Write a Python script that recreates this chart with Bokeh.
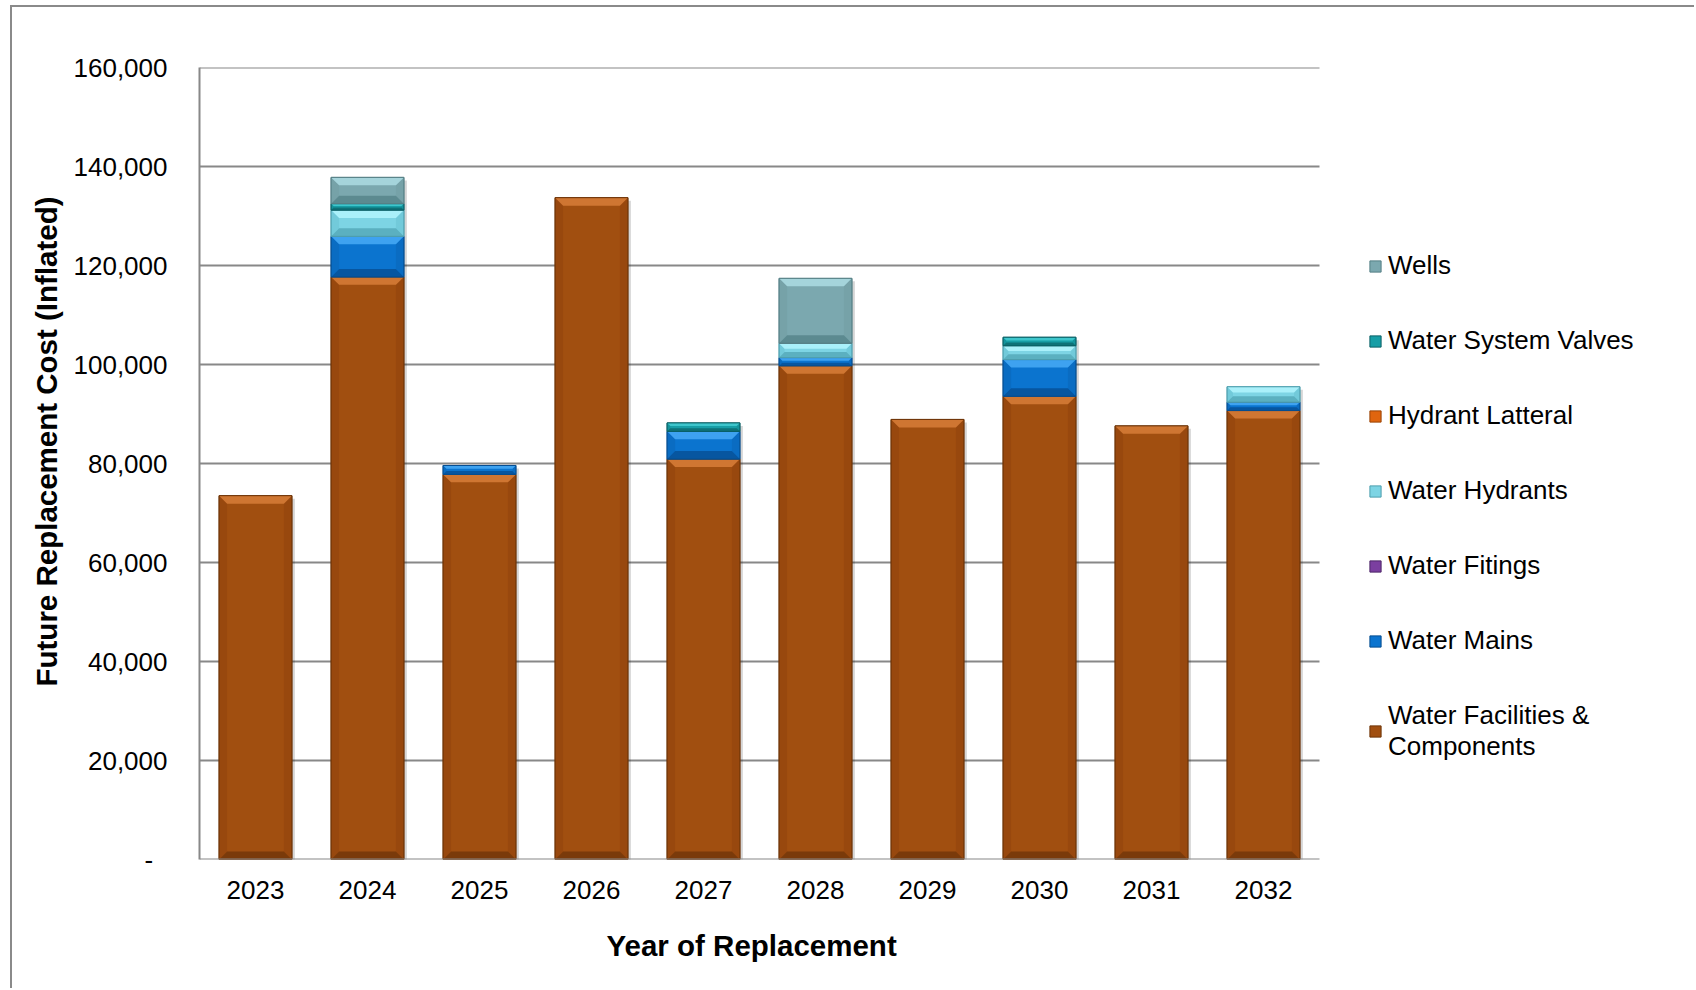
from bokeh.plotting import figure
from bokeh.models import Range1d, FixedTicker, Legend, LegendItem, NumeralTickFormatter, Title
from bokeh.embed import file_html
from bokeh.resources import INLINE

# ---- data -------------------------------------------------------------
years = ["2023", "2024", "2025", "2026", "2027", "2028", "2029", "2030", "2031", "2032"]
facilities = [73500, 117700, 77800, 133700, 80900, 99750, 88900, 93600, 87600, 90700]
mains      = [0, 8200, 1800, 0, 5600, 1650, 0, 7400, 0, 1700]
fittings   = [0, 0, 0, 0, 0, 0, 0, 0, 0, 0]
hydrants   = [0, 5300, 0, 0, 0, 2900, 0, 2800, 0, 3100]
latteral   = [0, 0, 0, 0, 0, 0, 0, 0, 0, 0]
valves     = [0, 1300, 0, 0, 1700, 0, 0, 1700, 0, 0]
wells      = [0, 5300, 0, 0, 0, 13100, 0, 0, 0, 0]
y_ticks = [0, 20000, 40000, 60000, 80000, 100000, 120000, 140000, 160000]

# stacking order bottom -> top, with (face, top bevel, bottom bevel, side bevel, edge)
series = [
    ("Water Facilities &\nComponents", facilities, ("#A14F10", "#CF7632", "#7A3A0A", "#98480E", "#6E3508")),
    ("Water Mains",          mains,     ("#0B74CF", "#3EA2F0", "#0756A0", "#0A6CC2", "#064E90")),
    ("Water Fitings",        fittings,  ("#7B3FA0", "#A56CC8", "#5A2C78", "#733A96", "#4E2668")),
    ("Water Hydrants",       hydrants,  ("#7DD4E4", "#AAF0FA", "#5BB0C0", "#72CADA", "#4E9EAE")),
    ("Hydrant Latteral",     latteral,  ("#E0650F", "#F59048", "#B04E08", "#D45E0C", "#9A4406")),
    ("Water System Valves",  valves,    ("#179EA6", "#3EC6CC", "#0E7278", "#14949C", "#0B6066")),
    ("Wells",                wells,     ("#7BA8AF", "#A5D4DB", "#5C8A90", "#76A2A8", "#557F85")),
]

FONT = "Liberation Sans"
W, H = 1684, 983
MB_L, MB_T, MB_B = 187, 60, 129
BAR_AREA_W = 1120                      # pixel width of the category band
FRAME_W = W - MB_L                     # frame runs to the right edge; legend lives there
FRAME_H = H - MB_T - MB_B
Y_MAX = 160000
N = len(years)
X_END = N * FRAME_W / BAR_AREA_W
PX_X = BAR_AREA_W / N
PX_Y = FRAME_H / Y_MAX
HALF = 0.325
GRID = "#888888"
NAN = float("nan")

p = figure(width=W, height=H, x_range=Range1d(0, X_END), y_range=Range1d(0, Y_MAX),
           output_backend="svg", toolbar_location=None,
           min_border_left=MB_L, min_border_top=MB_T,
           min_border_right=0, min_border_bottom=MB_B)
p.margin = (5, 0, 0, 10)
p.styles = {"border-left": "2px solid #8a8a8a", "border-top": "2px solid #8a8a8a"}
p.outline_line_color = None
p.background_fill_color = "white"
p.border_fill_color = "white"

# horizontal gridlines over the category band only
grid_y = [t for t in y_ticks if t > 0]
p.segment(x0=[0] * len(grid_y), x1=[N] * len(grid_y), y0=grid_y, y1=grid_y,
          line_color=GRID, line_width=2)

# soft drop shadow behind each stacked column
totals = [sum(s[1][i] for s in series) for i in range(N)]
sdx = 3 / PX_X
sdy = 3 / PX_Y
p.quad(left=[i + 0.5 - HALF + sdx for i in range(N)], right=[i + 0.5 + HALF + sdx for i in range(N)],
       bottom=[-sdy] * N, top=[t - sdy for t in totals],
       fill_color="black", fill_alpha=0.16, line_color=None)

items = []
base = [0] * N
for name, vals, (face, top_c, bot_c, side_c, edge) in series:
    idx = [i for i in range(N) if vals[i] > 0]
    y0 = [base[i] for i in idx]
    y1 = [base[i] + vals[i] for i in idx]
    xl = [i + 0.5 - HALF for i in idx]
    xr = [i + 0.5 + HALF for i in idx]
    if idx:
        p.quad(left=xl, right=xr, bottom=y0, top=y1,
               fill_color=face, line_color=edge, line_width=1)
        # bevel bands
        tx, ty, bx_, by_, lx, ly, rx, ry = [], [], [], [], [], [], [], []
        for a, b, x0, x1 in zip(y0, y1, xl, xr):
            bev = min(8.0, (b - a) * PX_Y * 0.38)
            dx = bev / PX_X
            dy = bev / PX_Y
            tx.append([x0, x1, x1 - dx, x0 + dx]); ty.append([b, b, b - dy, b - dy])
            bx_.append([x0, x1, x1 - dx, x0 + dx]); by_.append([a, a, a + dy, a + dy])
            lx.append([x0, x0 + dx, x0 + dx, x0]); ly.append([a, a + dy, b - dy, b])
            rx.append([x1, x1 - dx, x1 - dx, x1]); ry.append([a, a + dy, b - dy, b])
        p.patches(lx, ly, fill_color=side_c, line_color=None)
        p.patches(rx, ry, fill_color=side_c, line_color=None)
        p.patches(bx_, by_, fill_color=bot_c, line_color=None)
        p.patches(tx, ty, fill_color=top_c, line_color=None)
        p.quad(left=xl, right=xr, bottom=y0, top=y1,
               fill_color=None, line_color=edge, line_width=1)
    # legend swatch renderer (draws nothing in the plot area)
    sw = p.quad(left=[NAN], right=[NAN], bottom=[NAN], top=[NAN],
                fill_color=face, line_color=edge, line_width=1)
    items.append(LegendItem(label=name, renderers=[sw]))
    for i in range(N):
        base[i] += vals[i]

# category axis baseline, limited to the bar band
p.segment(x0=[0], x1=[N], y0=[0], y1=[0], line_color=GRID, line_width=2)

# ---- axes -------------------------------------------------------------
xa = p.xaxis[0]
xa.ticker = FixedTicker(ticks=[i + 0.5 for i in range(N)])
xa.major_label_overrides = {i + 0.5: y for i, y in enumerate(years)}
xa.major_label_standoff = 21
xa.axis_line_color = None

ya = p.yaxis[0]
ya.ticker = FixedTicker(ticks=y_ticks)
ya.formatter = NumeralTickFormatter(format="0,0")
ya.major_label_overrides = {0: "-\u00a0\u00a0"}
ya.major_label_standoff = 32
ya.axis_line_color = GRID
ya.axis_line_width = 2

for ax in (xa, ya):
    ax.major_tick_out = 0
    ax.major_tick_in = 0
    ax.minor_tick_line_color = None
    ax.major_tick_line_color = None
    ax.major_label_text_font = FONT
    ax.major_label_text_font_size = "26px"
    ax.major_label_text_color = "black"

TITLE_STYLE = dict(text_font=FONT, text_font_size="29.5px", text_font_style="bold",
                   text_color="black")

# x-axis title, placed under the bar band rather than the whole frame
x_title = Title(text="Year of Replacement", align="left", vertical_align="top",
                offset=BAR_AREA_W / 2 - 153, standoff=54, **TITLE_STYLE)
p.add_layout(x_title, "below")

# y-axis title, sitting a little above the middle of the value axis
y_title = Title(text="Future Replacement Cost (Inflated)", align="left", vertical_align="top",
                offset=173, standoff=12, **TITLE_STYLE)
p.add_layout(y_title, "left")

p.xgrid.grid_line_color = None
p.ygrid.grid_line_color = None

# ---- legend (top entry = top of stack), right of the bar band ----------
legend = Legend(items=list(reversed(items)), location=(BAR_AREA_W + 49, 97))
legend.label_text_font = FONT
legend.label_text_font_size = "26px"
legend.label_text_color = "black"
legend.glyph_width = 14
legend.glyph_height = 14
legend.label_standoff = 6
legend.label_height = 30
legend.spacing = 44
legend.padding = 0
legend.margin = 0
legend.border_line_color = None
legend.background_fill_alpha = 0
p.add_layout(legend)

open("out.html", "w").write(file_html(p, INLINE))
